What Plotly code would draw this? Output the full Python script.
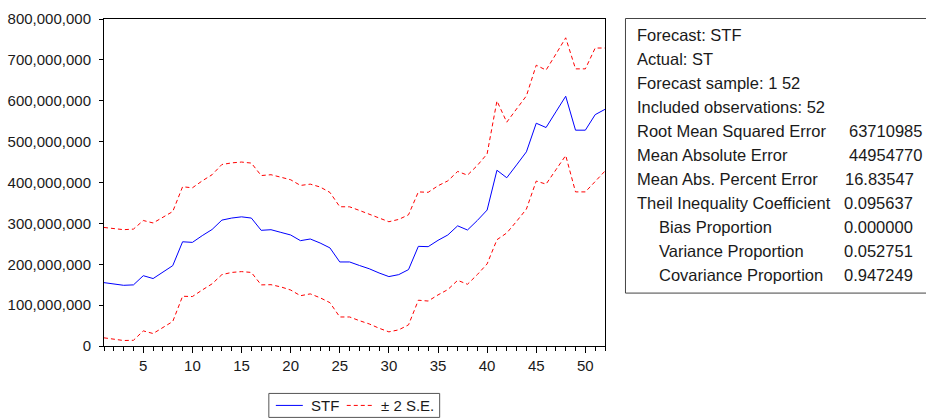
import plotly.graph_objects as go

# ---------------- data ----------------
obs = list(range(1, 53))

stf = [155e6, 152e6, 148.5e6, 149.5e6, 172e6, 165e6, 180e6, 196.6e6, 255e6, 253.5e6,
       270e6, 285e6, 308e6, 313e6, 316e6, 313e6, 283e6, 284.5e6, 278e6, 271.6e6,
       257.7e6, 261.8e6, 252e6, 240e6, 205.6e6, 205.6e6, 197e6, 189e6, 178.7e6, 169.8e6,
       174.6e6, 186.9e6, 243.8e6, 243e6, 258.5e6, 271.6e6, 294e6, 283.8e6, 307e6, 332.6e6,
       430e6, 411.6e6, 443e6, 475e6, 545e6, 534.5e6, 572.8e6, 611e6, 528e6, 528e6,
       566e6, 579e6]

upper = [290e6, 287.7e6, 284.6e6, 286e6, 307e6, 301e6, 315.6e6, 329e6, 389.6e6, 387e6,
         404e6, 419e6, 444e6, 448e6, 450e6, 447.5e6, 417e6, 419e6, 413e6, 406.7e6,
         392.8e6, 396e6, 389e6, 375.7e6, 340.7e6, 340.5e6, 331.7e6, 323e6, 313e6, 304e6,
         309.7e6, 321e6, 377e6, 376e6, 392e6, 404e6, 427e6, 418e6, 441.6e6, 470e6,
         599.6e6, 547.6e6, 580e6, 612e6, 687e6, 675e6, 714e6, 754e6, 678e6, 678e6,
         729e6, 729e6]

lower = [20e6, 16e6, 13.4e6, 14e6, 37e6, 30.5e6, 45e6, 60e6, 121.7e6, 121e6,
         137e6, 152e6, 174.6e6, 180e6, 182e6, 180e6, 149.5e6, 150e6, 144.6e6, 137e6,
         123e6, 127.5e6, 118e6, 106e6, 71e6, 71e6, 62e6, 54e6, 43.5e6, 34.6e6,
         39.5e6, 51.7e6, 112e6, 110e6, 125e6, 138e6, 160.7e6, 151e6, 174.6e6, 200.8e6,
         260e6, 276.5e6, 305e6, 335e6, 403.5e6, 396e6, 431e6, 466e6, 377e6, 377e6,
         402.5e6, 428e6]

x_tickvals = [5, 10, 15, 20, 25, 30, 35, 40, 45, 50]
y_tickvals = [0, 100e6, 200e6, 300e6, 400e6, 500e6, 600e6, 700e6, 800e6]

legend_labels = ["STF", "\u00b1 2 S.E."]

stat_labels = ["Forecast: STF", "Actual: ST", "Forecast sample: 1 52",
               "Included observations: 52", "Root Mean Squared Error",
               "Mean Absolute Error", "Mean Abs. Percent Error",
               "Theil Inequality Coefficient", "Bias Proportion",
               "Variance Proportion", "Covariance Proportion"]
stat_values = ["", "", "", "", "63710985", "44954770", "16.83547",
               "0.095637", "0.000000", "0.052751", "0.947249"]
stat_indent = [False] * 8 + [True] * 3
# left pixel of each value (EViews places big integers a little further right)
stat_value_px = [0, 0, 0, 0, 848, 848, 844, 843, 843, 843, 843]

# ---------------- layout helpers (pixel -> paper) ----------------
W, H = 926, 419
L, R, T, B = 104, 605.5, 19, 346.5
def px(xp):
    return (xp - L) / (R - L)
def py(yp):
    return (B - yp) / (B - T)

FONT = "Liberation Sans, Arial, sans-serif"
TXT = "#1a1a1a"
BLUE = "#0000ff"
RED = "#ff0000"
DASH = "4px,3px"
STAT_SIZE = 16.5

fig = go.Figure()
fig.add_trace(go.Scatter(x=obs, y=stf, mode="lines", name=legend_labels[0],
                         line=dict(color=BLUE, width=1)))
fig.add_trace(go.Scatter(x=obs, y=upper, mode="lines", name=legend_labels[1],
                         line=dict(color=RED, width=1, dash=DASH)))
fig.add_trace(go.Scatter(x=obs, y=lower, mode="lines", name="lower",
                         line=dict(color=RED, width=1, dash=DASH)))

# stats box
fig.add_shape(type="rect", xref="paper", yref="paper",
              x0=px(626), x1=px(960), y0=py(293.5), y1=py(18.5),
              line=dict(color="#444444", width=1), fillcolor="rgba(0,0,0,0)")
for i, (lab, val, ind, vx) in enumerate(zip(stat_labels, stat_values, stat_indent, stat_value_px)):
    yc = 35.5 + i * 23.95
    fig.add_annotation(xref="paper", yref="paper", x=px(658 if ind else 636), y=py(yc),
                       text=lab, showarrow=False, xanchor="left", yanchor="middle",
                       font=dict(family=FONT, size=STAT_SIZE, color=TXT))
    if val:
        fig.add_annotation(xref="paper", yref="paper", x=px(vx), y=py(yc),
                           text=val, showarrow=False, xanchor="left", yanchor="middle",
                           font=dict(family=FONT, size=STAT_SIZE, color=TXT))

# legend drawn as a key box below the plot
fig.add_shape(type="rect", xref="paper", yref="paper",
              x0=px(269), x1=px(440), y0=py(418), y1=py(394),
              line=dict(color="#555555", width=1), fillcolor="white")
fig.add_shape(type="line", xref="paper", yref="paper",
              x0=px(276), x1=px(303), y0=py(406), y1=py(406),
              line=dict(color=BLUE, width=1))
fig.add_annotation(xref="paper", yref="paper", x=px(309), y=py(406),
                   text=legend_labels[0], showarrow=False, xanchor="left", yanchor="middle",
                   font=dict(family=FONT, size=15, color=TXT))
fig.add_shape(type="line", xref="paper", yref="paper",
              x0=px(347), x1=px(373), y0=py(406), y1=py(406),
              line=dict(color=RED, width=1, dash=DASH))
fig.add_annotation(xref="paper", yref="paper", x=px(379), y=py(406),
                   text=legend_labels[1], showarrow=False, xanchor="left", yanchor="middle",
                   font=dict(family=FONT, size=15, color=TXT))

fig.update_layout(
    width=W, height=H,
    margin=dict(l=L, r=W - R, t=T, b=H - B, pad=0, autoexpand=False),
    paper_bgcolor="white", plot_bgcolor="white",
    font=dict(family=FONT, size=15, color=TXT),
    showlegend=False,
    xaxis=dict(range=[1, 52], tickmode="array", tickvals=x_tickvals,
               showgrid=False, zeroline=False, showline=True, linecolor="black",
               linewidth=1, mirror=True, ticks="outside", ticklen=6, tickcolor="black",
               tickfont=dict(family=FONT, size=15, color=TXT),
               minor=dict(dtick=1, tick0=0, ticks="outside", ticklen=4,
                          tickcolor="black", showgrid=False)),
    yaxis=dict(range=[0, 800e6], tickmode="array", tickvals=y_tickvals,
               tickformat=",d", showgrid=False, zeroline=False, showline=True,
               linecolor="black", linewidth=1, mirror=True, ticks="outside",
               ticklen=4, tickcolor="black", ticklabelstandoff=5,
               tickfont=dict(family=FONT, size=15, color=TXT)),
)

fig.write_html("out.html")
